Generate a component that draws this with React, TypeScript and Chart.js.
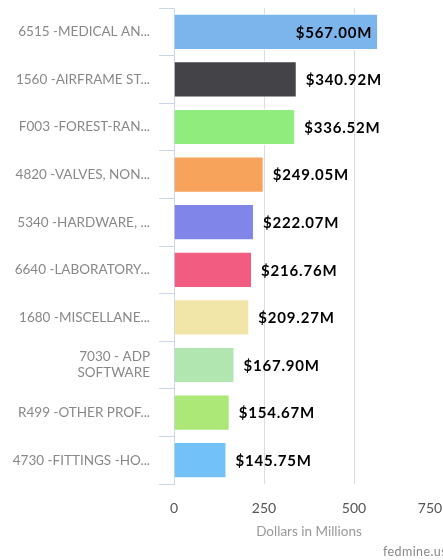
import React, { useEffect, useRef } from "react";
import { Chart, registerables } from "chart.js";

Chart.register(...registerables);

const categories: (string | string[])[] = [
  "6515 -MEDICAL AN...",
  "1560 -AIRFRAME ST...",
  "F003 -FOREST-RAN...",
  "4820 -VALVES, NON...",
  "5340 -HARDWARE, ...",
  "6640 -LABORATORY...",
  "1680 -MISCELLANE...",
  ["7030 - ADP", "SOFTWARE"],
  "R499 -OTHER PROF...",
  "4730 -FITTINGS -HO...",
];

const values = [567.0, 340.92, 336.52, 249.05, 222.07, 216.76, 209.27, 167.9, 154.67, 145.75];

const barColors = [
  "#7cb5ec",
  "#434348",
  "#90ed7d",
  "#f7a35c",
  "#8085e9",
  "#f15c80",
  "#f1e6a8",
  "#b1e6b0",
  "#ace878",
  "#72c1f8",
];

const xTicks = [0, 250, 500, 750];
const axisTitle = "Dollars in Millions";
const credit = "fedmine.us";

const FONT = "Lato, 'Open Sans', sans-serif";

const valueLabels = {
  id: "valueLabels",
  afterDatasetsDraw(chart: any) {
    const ctx = chart.ctx;
    const meta = chart.getDatasetMeta(0);
    ctx.save();
    ctx.font = `bold 15px ${FONT}`;
    (ctx as any).letterSpacing = "0.8px";
    ctx.fillStyle = "#000000";
    ctx.textBaseline = "middle";
    meta.data.forEach((bar: any, i: number) => {
      const v = values[i];
      const txt = "$" + v.toFixed(2) + "M";
      const w = ctx.measureText(txt).width;
      let x = bar.x + 9;
      if (x + w > chart.chartArea.right - 20) {
        ctx.textAlign = "right";
        x = bar.x - 6;
      } else {
        ctx.textAlign = "left";
      }
      ctx.fillText(txt, x, bar.y + 1);
    });
    ctx.restore();
  },
};

const creditPlugin = {
  id: "creditPlugin",
  afterDraw(chart: any) {
    const ctx = chart.ctx;
    ctx.save();
    ctx.font = `12.5px ${FONT}`;
    (ctx as any).letterSpacing = "0.4px";
    ctx.fillStyle = "#888888";
    ctx.textAlign = "left";
    ctx.textBaseline = "middle";
    ctx.fillText(credit, 383, 552);
    ctx.restore();
  },
};

export default function App() {
  const ref = useRef<HTMLCanvasElement | null>(null);
  useEffect(() => {
    if (!ref.current) return;
    const chart = new Chart(ref.current, {
      type: "bar",
      data: {
        labels: categories,
        datasets: [
          {
            data: values,
            backgroundColor: barColors,
            borderColor: "#ffffff",
            borderWidth: 1,
            barPercentage: 0.76,
            categoryPercentage: 1,
          },
        ],
      },
      options: {
        indexAxis: "y",
        animation: false,
        responsive: false,
        maintainAspectRatio: false,
        layout: { padding: { top: 8, left: 0, right: 28, bottom: 18 } },
        plugins: {
          legend: { display: false },
          tooltip: { enabled: false },
        },
        scales: {
          x: {
            min: 0,
            max: 750,
            afterBuildTicks: (scale: any) => {
              scale.ticks = xTicks.map((v) => ({ value: v }));
            },
            grid: {
              color: (c: any) => (c.tick && c.tick.value === 0 ? "rgba(0,0,0,0)" : "#dcdcdc"),
              lineWidth: 1,
              drawTicks: false,
            },
            border: { display: false },
            ticks: {
              color: "#555555",
              font: { family: FONT, size: 14 },
              padding: 16,
              callback: (v: any, i: number) =>
                i === xTicks.length - 1 ? String(v) + "\u2002\u2002\u2002\u2002" : String(v),
            },
            title: {
              display: true,
              text: axisTitle,
              color: "#999999",
              font: { family: FONT, size: 13.5 },
              padding: { top: 6, bottom: 2 },
            },
            afterFit: (scale: any) => {
              scale.height = 58;
              scale.paddingLeft = 0;
              scale.paddingRight = 0;
            },
          },
          y: {
            grid: {
              drawOnChartArea: false,
              drawTicks: true,
              tickLength: 15,
              color: "#ccd6eb",
              offset: true,
            },
            border: { display: true, color: "#ccd6eb" },
            ticks: {
              color: "#888888",
              font: { family: FONT, size: 13.5 },
              padding: 9,
              autoSkip: false,
            },
            afterFit: (scale: any) => {
              scale.width = 174;
              scale.paddingTop = 0;
              scale.paddingBottom = 0;
            },
          },
        },
      },
      plugins: [valueLabels, creditPlugin],
    });
    return () => chart.destroy();
  }, []);

  return (
    <div style={{ position: "fixed", left: 0, top: 0, width: 472, height: 560 }}>
      <canvas ref={ref} width={472} height={560} style={{ width: 472, height: 560 }} />
    </div>
  );
}
